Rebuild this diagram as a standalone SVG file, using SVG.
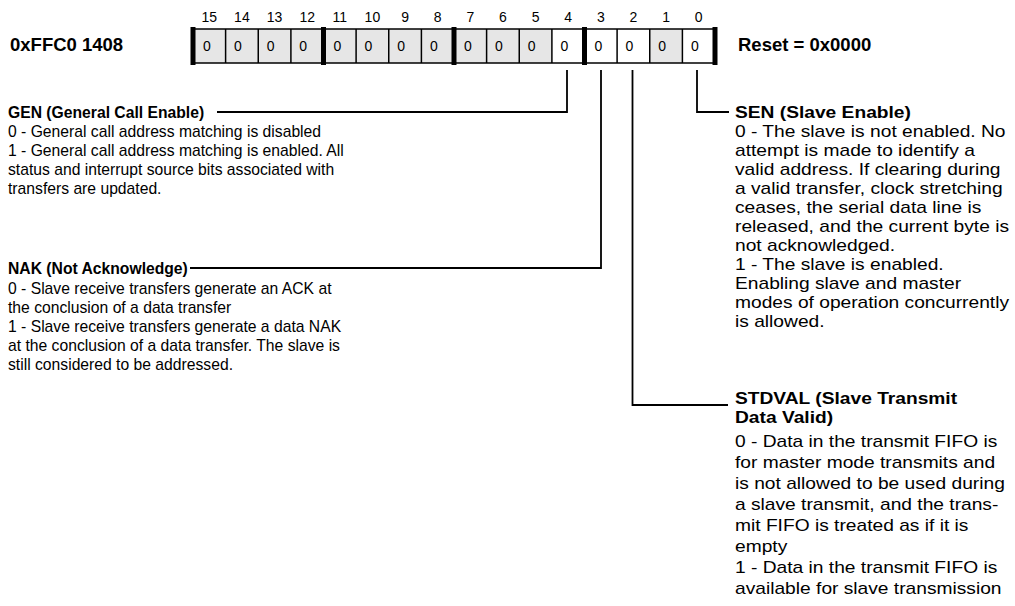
<svg xmlns="http://www.w3.org/2000/svg" width="1015" height="606" viewBox="0 0 1015 606">
<style>
text{font-family:"Liberation Sans",Arial,Helvetica,sans-serif;fill:#000}
.hdr{font-size:18.5px;font-weight:bold}
.bitn{font-size:14px;text-anchor:middle}
.cellv{font-size:14px}
.g{fill:#e6e6e6}
.w{fill:#ffffff}
.div{stroke:#000;stroke-width:1.5}
.thick{stroke:#000;stroke-width:5}
.edge{stroke:#000;stroke-width:1.6}
.conn{fill:none;stroke:#000;stroke-width:1.8}
.lt{font-size:15.7px;font-weight:bold}
.lb{font-size:15.7px}
.rt{font-size:16px;font-weight:bold}
.rb{font-size:16px}
</style>
<rect width="1015" height="606" fill="#fff"/>
<g id="register">
<text class="hdr" x="10" y="51">0xFFC0 1408</text>
<g id="bit-numbers">
<text class="bitn" x="209.3" y="22">15</text>
<text class="bitn" x="241.9" y="22">14</text>
<text class="bitn" x="274.6" y="22">13</text>
<text class="bitn" x="307.2" y="22">12</text>
<text class="bitn" x="339.8" y="22">11</text>
<text class="bitn" x="372.4" y="22">10</text>
<text class="bitn" x="405.1" y="22">9</text>
<text class="bitn" x="437.7" y="22">8</text>
<text class="bitn" x="470.3" y="22">7</text>
<text class="bitn" x="502.9" y="22">6</text>
<text class="bitn" x="535.6" y="22">5</text>
<text class="bitn" x="568.2" y="22">4</text>
<text class="bitn" x="600.8" y="22">3</text>
<text class="bitn" x="633.4" y="22">2</text>
<text class="bitn" x="666.1" y="22">1</text>
<text class="bitn" x="698.7" y="22">0</text>
</g>
<g id="cells">
<rect class="g" x="193" y="29" width="358.9" height="34"/>
<rect class="w" x="551.9" y="29" width="97.9" height="34"/>
<rect class="g" x="649.75" y="29" width="32.6" height="34"/>
<rect class="w" x="682.4" y="29" width="32.6" height="34"/>
<line class="edge" x1="193" y1="29" x2="715" y2="29"/>
<line class="edge" x1="193" y1="63" x2="715" y2="63"/>
<line class="div" x1="225.6" y1="29" x2="225.6" y2="63"/>
<line class="div" x1="258.25" y1="29" x2="258.25" y2="63"/>
<line class="div" x1="290.9" y1="29" x2="290.9" y2="63"/>
<line class="div" x1="356.1" y1="29" x2="356.1" y2="63"/>
<line class="div" x1="388.75" y1="29" x2="388.75" y2="63"/>
<line class="div" x1="421.4" y1="29" x2="421.4" y2="63"/>
<line class="div" x1="486.6" y1="29" x2="486.6" y2="63"/>
<line class="div" x1="519.25" y1="29" x2="519.25" y2="63"/>
<line class="div" x1="551.9" y1="29" x2="551.9" y2="63"/>
<line class="div" x1="617.1" y1="29" x2="617.1" y2="63"/>
<line class="div" x1="649.75" y1="29" x2="649.75" y2="63"/>
<line class="div" x1="682.4" y1="29" x2="682.4" y2="63"/>
<line class="thick" x1="193" y1="27" x2="193" y2="65"/>
<line class="thick" x1="323.5" y1="27" x2="323.5" y2="65"/>
<line class="thick" x1="454" y1="27" x2="454" y2="65"/>
<line class="thick" x1="584.5" y1="27" x2="584.5" y2="65"/>
<line class="thick" x1="715" y1="27" x2="715" y2="65"/>
<text class="cellv" x="203" y="51">0</text>
<text class="cellv" x="234" y="51">0</text>
<text class="cellv" x="266.7" y="51">0</text>
<text class="cellv" x="299.3" y="51">0</text>
<text class="cellv" x="333.5" y="51">0</text>
<text class="cellv" x="364.6" y="51">0</text>
<text class="cellv" x="397.2" y="51">0</text>
<text class="cellv" x="429.9" y="51">0</text>
<text class="cellv" x="464" y="51">0</text>
<text class="cellv" x="495.1" y="51">0</text>
<text class="cellv" x="527.7" y="51">0</text>
<text class="cellv" x="560.4" y="51">0</text>
<text class="cellv" x="594.5" y="51">0</text>
<text class="cellv" x="625.6" y="51">0</text>
<text class="cellv" x="658.2" y="51">0</text>
<text class="cellv" x="690.9" y="51">0</text>
</g>
<text class="hdr" x="738" y="51">Reset = 0x0000</text>
</g>
<g id="connectors">
<path class="conn" d="M567 70V112H217"/>
<path class="conn" d="M601 70V268H190"/>
<path class="conn" d="M632.5 70V405H728"/>
<path class="conn" d="M697 70V112H729"/>
</g>
<g id="gen">
<text class="lt" x="8" y="118">GEN (General Call Enable)</text>
<text class="lb" x="8" y="137">0 - General call address matching is disabled</text>
<text class="lb" x="8" y="156">1 - General call address matching is enabled. All</text>
<text class="lb" x="8" y="175">status and interrupt source bits associated with</text>
<text class="lb" x="8" y="194">transfers are updated.</text>
</g>
<g id="nak">
<text class="lt" x="8" y="274">NAK (Not Acknowledge)</text>
<text class="lb" x="8" y="294">0 - Slave receive transfers generate an ACK at</text>
<text class="lb" x="8" y="313">the conclusion of a data transfer</text>
<text class="lb" x="8" y="332">1 - Slave receive transfers generate a data NAK</text>
<text class="lb" x="8" y="351">at the conclusion of a data transfer. The slave is</text>
<text class="lb" x="8" y="370">still considered to be addressed.</text>
</g>
<g id="sen" transform="translate(735 0) scale(1.2 1)">
<text class="rt" x="0" y="118">SEN (Slave Enable)</text>
<text class="rb" x="0" y="137">0 - The slave is not enabled. No</text>
<text class="rb" x="0" y="156">attempt is made to identify a</text>
<text class="rb" x="0" y="175">valid address. If clearing during</text>
<text class="rb" x="0" y="194">a valid transfer, clock stretching</text>
<text class="rb" x="0" y="213">ceases, the serial data line is</text>
<text class="rb" x="0" y="232">released, and the current byte is</text>
<text class="rb" x="0" y="251">not acknowledged.</text>
<text class="rb" x="0" y="270">1 - The slave is enabled.</text>
<text class="rb" x="0" y="289">Enabling slave and master</text>
<text class="rb" x="0" y="308">modes of operation concurrently</text>
<text class="rb" x="0" y="327">is allowed.</text>
</g>
<g id="stdval" transform="translate(735 0) scale(1.2 1)">
<text class="rt" x="0" y="404">STDVAL (Slave Transmit</text>
<text class="rt" x="0" y="423">Data Valid)</text>
<text class="rb" x="0" y="447">0 - Data in the transmit FIFO is</text>
<text class="rb" x="0" y="468">for master mode transmits and</text>
<text class="rb" x="0" y="489">is not allowed to be used during</text>
<text class="rb" x="0" y="510">a slave transmit, and the trans-</text>
<text class="rb" x="0" y="531">mit FIFO is treated as if it is</text>
<text class="rb" x="0" y="552">empty</text>
<text class="rb" x="0" y="573">1 - Data in the transmit FIFO is</text>
<text class="rb" x="0" y="594">available for slave transmission</text>
</g>
</svg>
